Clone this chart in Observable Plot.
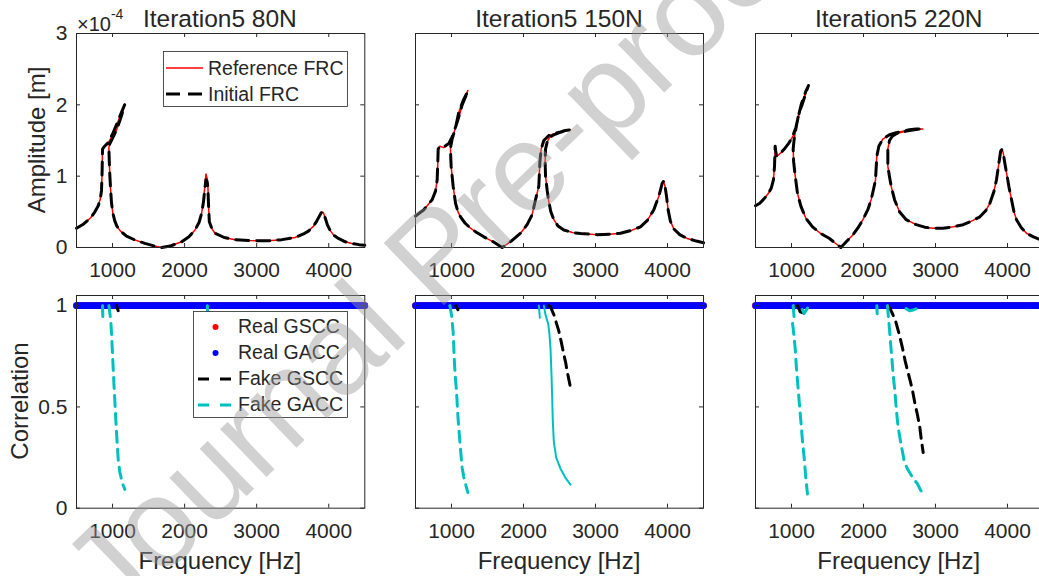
<!DOCTYPE html>
<html><head><meta charset="utf-8">
<script src="https://cdn.jsdelivr.net/npm/d3@7"></script>
<script src="https://cdn.jsdelivr.net/npm/@observablehq/plot@0.6"></script>
<style>
html,body{margin:0;padding:0;background:#fff;}
#fig{position:relative;width:1039px;height:576px;overflow:hidden;background:#fff;}
#fig > svg{position:absolute;}
</style></head><body><div id="fig"></div><script>
// ---------- DATA ----------
const titles = ["Iteration5 80N", "Iteration5 150N", "Iteration5 220N"];
const xTicks = [1000, 2000, 3000, 4000];
const ampTicks = [0, 1, 2, 3];          // ×10^-4 m
const corrTicks = [0, 0.5, 1];
const legendTop = ["Reference FRC", "Initial FRC"];
const legendBottom = ["Real GSCC", "Real GACC", "Fake GSCC", "Fake GACC"];

// FRC curves: [frequency Hz, amplitude ×10^-4 m], in path order (folds included)
const ref80 = [[500,0.27],[600,0.33],[700,0.42],[755,0.5],[800,0.58],[830,0.68],[847,0.8],[855,1.05],[861,1.38],[890,1.42],[930,1.45],[970,1.52],[1009,1.6],[1050,1.7],[1090,1.8],[1130,1.9],[1171,2.01],[1140,1.9],[1102,1.78],[1060,1.66],[1009,1.55],[960,1.45],[949,1.4],[955,1.2],[963,1.0],[975,0.78],[986,0.62],[1005,0.48],[1032,0.37],[1060,0.3],[1110,0.23],[1194,0.16],[1300,0.11],[1449,0.057],[1580,0.02],[1681,0],[1800,0.02],[1958,0.08],[2060,0.15],[2144,0.245],[2200,0.35],[2236,0.48],[2262,0.65],[2282,0.88],[2296,1.03],[2310,0.98],[2322,0.9],[2332,0.6],[2343,0.36],[2380,0.26],[2421,0.2],[2550,0.14],[2699,0.11],[2900,0.097],[3162,0.094],[3350,0.11],[3532,0.14],[3650,0.19],[3718,0.23],[3790,0.3],[3833,0.37],[3870,0.44],[3903,0.5],[3925,0.49],[3949,0.42],[3980,0.32],[4019,0.24],[4070,0.17],[4134,0.127],[4230,0.08],[4319,0.057],[4420,0.04],[4500,0.033]];
const init80 = [[500,0.27],[600,0.33],[700,0.42],[755,0.5],[800,0.58],[830,0.68],[847,0.8],[855,1.05],[861,1.38],[890,1.42],[930,1.46],[970,1.53],[1009,1.61],[1050,1.71],[1090,1.81],[1130,1.91],[1168,2.0],[1140,1.9],[1102,1.78],[1060,1.66],[1009,1.55],[960,1.45],[949,1.4],[955,1.2],[963,1.0],[975,0.78],[986,0.62],[1005,0.48],[1032,0.37],[1060,0.3],[1110,0.23],[1194,0.16],[1300,0.11],[1449,0.057],[1580,0.02],[1681,0],[1800,0.02],[1958,0.08],[2060,0.15],[2144,0.245],[2200,0.35],[2236,0.48],[2262,0.64],[2282,0.84],[2296,0.95],[2310,0.93],[2322,0.86],[2332,0.6],[2343,0.36],[2380,0.26],[2421,0.2],[2550,0.14],[2699,0.11],[2900,0.097],[3162,0.094],[3350,0.11],[3532,0.14],[3650,0.19],[3718,0.23],[3790,0.3],[3833,0.37],[3870,0.44],[3903,0.5],[3925,0.49],[3949,0.42],[3980,0.32],[4019,0.24],[4070,0.17],[4134,0.127],[4230,0.08],[4319,0.057],[4420,0.04],[4500,0.033]];
const ref150 = [[500,0.44],[616,0.53],[731,0.67],[778,0.79],[801,0.95],[810,1.2],[815,1.38],[838,1.42],[894,1.4],[963,1.45],[1009,1.54],[1040,1.63],[1079,1.75],[1115,1.87],[1148,1.99],[1190,2.1],[1227,2.2],[1171,2.08],[1102,1.9],[1056,1.68],[1009,1.52],[986,1.4],[990,1.25],[995,1.14],[1023,0.86],[1056,0.62],[1090,0.5],[1125,0.43],[1190,0.34],[1264,0.27],[1350,0.21],[1449,0.15],[1580,0.08],[1704,0],[1830,0.09],[1958,0.2],[2050,0.32],[2120,0.46],[2167,0.67],[2213,0.86],[2227,1.19],[2245,1.38],[2282,1.5],[2352,1.57],[2440,1.6],[2514,1.62],[2580,1.64],[2653,1.65],[2580,1.635],[2500,1.61],[2420,1.58],[2360,1.54],[2329,1.48],[2306,1.38],[2300,1.2],[2306,1.0],[2329,0.8],[2352,0.64],[2380,0.5],[2421,0.39],[2480,0.3],[2560,0.245],[2680,0.21],[2792,0.195],[3023,0.18],[3200,0.185],[3347,0.2],[3500,0.24],[3625,0.29],[3720,0.38],[3810,0.53],[3880,0.72],[3926,0.9],[3945,0.93],[3965,0.86],[3986,0.72],[4010,0.52],[4040,0.37],[4088,0.26],[4170,0.18],[4273,0.127],[4400,0.09],[4500,0.066]];
const init150 = [[500,0.44],[616,0.53],[731,0.67],[778,0.79],[801,0.95],[810,1.2],[815,1.38],[838,1.42],[894,1.41],[963,1.46],[1009,1.55],[1040,1.64],[1079,1.76],[1115,1.88],[1148,2.0],[1190,2.1],[1227,2.19],[1171,2.08],[1102,1.9],[1056,1.68],[1009,1.52],[986,1.4],[990,1.25],[995,1.14],[1023,0.86],[1056,0.62],[1090,0.5],[1125,0.43],[1190,0.34],[1264,0.27],[1350,0.21],[1449,0.15],[1580,0.08],[1704,0],[1830,0.09],[1958,0.2],[2050,0.32],[2120,0.46],[2167,0.67],[2213,0.86],[2227,1.19],[2245,1.38],[2282,1.5],[2352,1.57],[2440,1.6],[2514,1.62],[2580,1.64],[2650,1.65],[2580,1.635],[2500,1.61],[2420,1.58],[2360,1.54],[2329,1.48],[2306,1.38],[2300,1.2],[2306,1.0],[2329,0.8],[2352,0.64],[2380,0.5],[2421,0.39],[2480,0.3],[2560,0.245],[2680,0.21],[2792,0.195],[3023,0.18],[3200,0.185],[3347,0.2],[3500,0.24],[3625,0.29],[3720,0.38],[3810,0.53],[3880,0.72],[3926,0.9],[3945,0.93],[3965,0.86],[3986,0.72],[4010,0.52],[4040,0.37],[4088,0.26],[4170,0.18],[4273,0.127],[4400,0.09],[4500,0.066]];
const ref220 = [[500,0.585],[560,0.62],[625,0.69],[680,0.76],[718,0.83],[750,0.95],[764,1.14],[773,1.42],[780,1.36],[792,1.28],[820,1.3],[856,1.33],[900,1.38],[968,1.47],[1020,1.56],[1060,1.66],[1100,1.84],[1134,1.99],[1170,2.1],[1199,2.18],[1236,2.28],[1210,2.2],[1176,2.09],[1140,1.98],[1106,1.9],[1069,1.71],[1037,1.52],[1023,1.38],[1030,1.2],[1046,1.05],[1065,0.9],[1083,0.76],[1130,0.58],[1199,0.41],[1292,0.29],[1400,0.2],[1523,0.13],[1610,0.06],[1685,0],[1770,0.09],[1852,0.175],[1920,0.27],[1991,0.39],[2060,0.53],[2106,0.67],[2140,0.82],[2167,0.95],[2185,1.28],[2213,1.42],[2268,1.52],[2361,1.58],[2454,1.61],[2550,1.63],[2639,1.65],[2730,1.66],[2824,1.66],[2730,1.655],[2639,1.64],[2540,1.62],[2454,1.595],[2400,1.56],[2361,1.5],[2338,1.38],[2338,1.14],[2360,1.0],[2384,0.86],[2431,0.67],[2500,0.5],[2593,0.39],[2731,0.32],[2850,0.285],[2963,0.27],[3102,0.27],[3250,0.29],[3384,0.32],[3500,0.37],[3616,0.43],[3700,0.52],[3755,0.62],[3810,0.78],[3847,0.95],[3880,1.18],[3905,1.35],[3920,1.38],[3940,1.33],[3960,1.2],[3986,1.05],[4020,0.85],[4056,0.67],[4090,0.5],[4125,0.39],[4190,0.28],[4264,0.2],[4360,0.15],[4449,0.113],[4500,0.1]];
const init220 = [[500,0.585],[560,0.62],[625,0.69],[680,0.76],[718,0.83],[750,0.95],[764,1.14],[773,1.42],[780,1.36],[792,1.28],[820,1.3],[856,1.33],[900,1.38],[968,1.47],[1020,1.57],[1060,1.68],[1100,1.86],[1134,2.0],[1170,2.11],[1199,2.19],[1236,2.27],[1210,2.2],[1176,2.09],[1140,1.98],[1106,1.9],[1069,1.71],[1037,1.52],[1023,1.38],[1030,1.2],[1046,1.05],[1065,0.9],[1083,0.76],[1130,0.58],[1199,0.41],[1292,0.29],[1400,0.2],[1523,0.13],[1610,0.06],[1685,0],[1770,0.09],[1852,0.175],[1920,0.27],[1991,0.39],[2060,0.53],[2106,0.67],[2140,0.82],[2167,0.95],[2185,1.28],[2213,1.42],[2268,1.52],[2361,1.58],[2454,1.61],[2550,1.63],[2639,1.65],[2730,1.66],[2820,1.66],[2730,1.655],[2639,1.64],[2540,1.62],[2454,1.595],[2400,1.56],[2361,1.5],[2338,1.38],[2338,1.14],[2360,1.0],[2384,0.86],[2431,0.67],[2500,0.5],[2593,0.39],[2731,0.32],[2850,0.285],[2963,0.27],[3102,0.27],[3250,0.29],[3384,0.32],[3500,0.37],[3616,0.43],[3700,0.52],[3755,0.62],[3810,0.78],[3847,0.95],[3880,1.18],[3905,1.35],[3920,1.37],[3940,1.33],[3960,1.2],[3986,1.05],[4020,0.85],[4056,0.67],[4090,0.5],[4125,0.39],[4190,0.28],[4264,0.2],[4360,0.15],[4449,0.113],[4500,0.1]];

// Correlation: real GSCC / GACC stay at 1 over the whole sweep
const sweepHz = [500,525,550,575,600,625,650,675,700,725,750,775,800,825,850,875,900,925,950,975,1000,1025,1050,1075,1100,1125,1150,1175,1200,1225,1250,1275,1300,1325,1350,1375,1400,1425,1450,1475,1500,1525,1550,1575,1600,1625,1650,1675,1700,1725,1750,1775,1800,1825,1850,1875,1900,1925,1950,1975,2000,2025,2050,2075,2100,2125,2150,2175,2200,2225,2250,2275,2300,2325,2350,2375,2400,2425,2450,2475,2500,2525,2550,2575,2600,2625,2650,2675,2700,2725,2750,2775,2800,2825,2850,2875,2900,2925,2950,2975,3000,3025,3050,3075,3100,3125,3150,3175,3200,3225,3250,3275,3300,3325,3350,3375,3400,3425,3450,3475,3500,3525,3550,3575,3600,3625,3650,3675,3700,3725,3750,3775,3800,3825,3850,3875,3900,3925,3950,3975,4000,4025,4050,4075,4100,4125,4150,4175,4200,4225,4250,4275,4300,4325,4350,4375,4400,4425,4450,4475,4500];
const realGSCC = 1.0;
const realGACC = 1.0;

// Fake correlations: segments of [frequency Hz, correlation]
const fakeGSCC80 = [[[1056,1.0],[1068,0.985],[1079,0.975]]];
const fakeGACC80 = [[[861,1.0],[864,0.96],[868,0.915]],[[949,1.0],[975,0.93],[986,0.86],[1000,0.76],[1009,0.69],[1020,0.61],[1032,0.53],[1045,0.44],[1056,0.37],[1068,0.3],[1079,0.24],[1100,0.18],[1116,0.155],[1140,0.12],[1171,0.093]],[[2315,1.0],[2319,0.965]]];
const fakeGSCC150 = [[[1060,1.0],[1090,0.98]],[[2352,1.0],[2380,0.99],[2421,0.956],[2460,0.91],[2491,0.874],[2525,0.82],[2560,0.759],[2585,0.72],[2606,0.677],[2634,0.628],[2650,0.6],[2662,0.587]]];
const fakeGACC150 = [[[977,1.0],[990,0.975],[1000,0.955],[1023,0.87],[1042,0.71],[1055,0.64],[1069,0.58],[1088,0.46],[1100,0.4],[1116,0.33],[1130,0.27],[1148,0.2],[1170,0.155],[1194,0.12],[1227,0.077]]];
const fakeGACC150Dense = [[[2213,1.0],[2220,0.97],[2227,0.94]],[[2282,1.0],[2306,0.955],[2343,0.91],[2360,0.86],[2375,0.79],[2389,0.66],[2398,0.55],[2407,0.43],[2421,0.33],[2454,0.25],[2514,0.195],[2583,0.15],[2653,0.116]]];
const fakeGSCC220 = [[[1083,1.0],[1120,0.97],[1162,0.965]],[[2347,1.0],[2403,0.96],[2449,0.92],[2495,0.86],[2542,0.79],[2579,0.726],[2611,0.68],[2648,0.63],[2681,0.58],[2718,0.51],[2750,0.46],[2782,0.4],[2806,0.33],[2829,0.275]]];
const fakeGACC220 = [[[1023,1.0],[1037,0.94],[1014,0.91],[1023,0.89],[1051,0.79],[1069,0.69],[1083,0.63],[1106,0.53],[1130,0.43],[1153,0.33],[1176,0.25],[1199,0.15],[1222,0.07]],[[1150,0.98],[1175,0.96],[1200,0.975],[1245,1.0]],[[2185,1.0],[2190,0.96]],[[2333,1.0],[2347,0.94],[2366,0.86],[2389,0.76],[2412,0.66],[2435,0.58],[2458,0.48],[2481,0.4],[2519,0.32],[2565,0.234],[2611,0.193],[2681,0.152],[2750,0.12],[2796,0.087],[2829,0.067]],[[2590,0.985],[2640,0.975],[2700,0.98],[2775,0.99]]];

// ---------- STYLE / LAYOUT ----------
const FONT = '"Liberation Sans", Arial, Helvetica, sans-serif';
const INK = "#262626";
const RED = "#ff0000", BLUE = "#0000ff", CYAN = "#00bfbf", BLACK = "#000000";
const cols = [{L: 75.7, R: 364}, {L: 415, R: 703}, {L: 754.7, R: 1042.7}];
const rowsY = [{T: 33, B: 247}, {T: 295, B: 507.7}];
const M = {l: 70, r: 14, t: 14, b: 40};
const fig = document.getElementById("fig");

const toRows = (pairs) => pairs.map(([f, v]) => ({f, v}));
const segRows = (segs) => segs.flatMap((s, i) => s.map(([f, v]) => ({f, v, seg: i})));

function panel(col, row, yDomain, yTicks, showY, marks) {
  const fw = col.R - col.L, fh = row.B - row.T;
  const svg = Plot.plot({
    width: fw + M.l + M.r, height: fh + M.t + M.b,
    marginLeft: M.l, marginRight: M.r, marginTop: M.t, marginBottom: M.b,
    style: {fontFamily: FONT, fontSize: "21px", color: INK, background: "transparent", overflow: "visible"},
    x: {domain: [500, 4500], axis: null},
    y: {domain: yDomain, axis: null},
    marks: [
      ...marks,
      Plot.frame({stroke: INK, strokeWidth: 1}),
      Plot.tickX(xTicks, {x: d => d, stroke: INK, insetTop: fh - 4}),
      Plot.tickX(xTicks, {x: d => d, stroke: INK, insetBottom: fh - 4}),
      Plot.tickY(yTicks, {y: d => d, stroke: INK, insetRight: fw - 4}),
      Plot.tickY(yTicks, {y: d => d, stroke: INK, insetLeft: fw - 4}),
      Plot.axisX(xTicks, {tickSize: 0, tickPadding: 15, label: null, tickFormat: d => String(d)}),
      showY ? Plot.axisY(yTicks, {tickSize: 0, tickPadding: 9, label: null, tickFormat: d => String(d)}) : null
    ].filter(Boolean)
  });
  svg.style.left = (col.L - M.l) + "px";
  svg.style.top = (row.T - M.t) + "px";
  fig.appendChild(svg);
}

const refs = [ref80, ref150, ref220], inits = [init80, init150, init220];
const gsccs = [fakeGSCC80, fakeGSCC150, fakeGSCC220];
const gaccs = [fakeGACC80, fakeGACC150, fakeGACC220];
const dense = [[], fakeGACC150Dense, []];
const realRowsS = sweepHz.map(f => ({f, v: realGSCC}));
const realRowsA = sweepHz.map(f => ({f, v: realGACC}));

for (let i = 0; i < 3; i++) {
  panel(cols[i], rowsY[0], [0, 3], ampTicks, i === 0, [
    Plot.line(toRows(refs[i]), {x: "f", y: "v", stroke: RED, strokeWidth: 1.5}),
    Plot.line(toRows(inits[i]), {x: "f", y: "v", stroke: BLACK, strokeWidth: 3, strokeDasharray: "13,8"})
  ]);
  panel(cols[i], rowsY[1], [0, 1.05], corrTicks, i === 0, [
    Plot.dot(realRowsS, {x: "f", y: "v", r: 3.3, fill: RED, stroke: null}),
    Plot.dot(realRowsA, {x: "f", y: "v", r: 3.3, fill: BLUE, stroke: null}),
    Plot.line(segRows(gsccs[i]), {x: "f", y: "v", z: "seg", stroke: BLACK, strokeWidth: 3, strokeDasharray: "11,7"}),
    Plot.line(segRows(gaccs[i]), {x: "f", y: "v", z: "seg", stroke: CYAN, strokeWidth: 3, strokeDasharray: "11,7"}),
    Plot.line(segRows(dense[i]), {x: "f", y: "v", z: "seg", stroke: CYAN, strokeWidth: 2})
  ]);
}

// ---------- TEXT, LEGENDS, WATERMARK ----------
const ov = d3.select(fig).append("svg")
  .attr("width", 1039).attr("height", 576)
  .style("left", "0px").style("top", "0px")
  .style("font-family", FONT).attr("fill", INK);

cols.forEach((c, i) => {
  ov.append("text").attr("x", (c.L + c.R) / 2).attr("y", 27).attr("text-anchor", "middle")
    .attr("font-size", 24.5).text(titles[i]);
  ov.append("text").attr("x", (c.L + c.R) / 2).attr("y", 569).attr("text-anchor", "middle")
    .attr("font-size", 24).text("Frequency [Hz]");
});
ov.append("text").attr("transform", "translate(45,140) rotate(-90)").attr("text-anchor", "middle")
  .attr("font-size", 24).text("Amplitude [m]");
ov.append("text").attr("transform", "translate(28,401) rotate(-90)").attr("text-anchor", "middle")
  .attr("font-size", 24).text("Correlation");
const mult = ov.append("text").attr("x", 77).attr("y", 31).attr("font-size", 20);
mult.append("tspan").text("×10");
mult.append("tspan").attr("font-size", 14).attr("dy", -12).text("-4");

// top legend
const lg1 = ov.append("g");
lg1.append("rect").attr("x", 163.5).attr("y", 51.5).attr("width", 184).attr("height", 55)
  .attr("fill", "#fff").attr("stroke", INK).attr("stroke-width", 0.8);
lg1.append("line").attr("x1", 166).attr("x2", 203).attr("y1", 68).attr("y2", 68).attr("stroke", RED).attr("stroke-width", 1.5);
lg1.append("line").attr("x1", 166).attr("x2", 203).attr("y1", 94).attr("y2", 94).attr("stroke", BLACK).attr("stroke-width", 3).attr("stroke-dasharray", "14,8");
legendTop.forEach((t, k) => lg1.append("text").attr("x", 208).attr("y", 75 + 26 * k).attr("font-size", 19.5).text(t));

// bottom legend
const lg2 = ov.append("g");
lg2.append("rect").attr("x", 193.5).attr("y", 311.5).attr("width", 154).attr("height", 106)
  .attr("fill", "#fff").attr("stroke", INK).attr("stroke-width", 0.8);
lg2.append("circle").attr("cx", 215.5).attr("cy", 327).attr("r", 3).attr("fill", RED);
lg2.append("circle").attr("cx", 215.5).attr("cy", 353).attr("r", 3).attr("fill", BLUE);
lg2.append("line").attr("x1", 198).attr("x2", 232).attr("y1", 379).attr("y2", 379).attr("stroke", BLACK).attr("stroke-width", 3).attr("stroke-dasharray", "11,11");
lg2.append("line").attr("x1", 198).attr("x2", 232).attr("y1", 405).attr("y2", 405).attr("stroke", CYAN).attr("stroke-width", 3).attr("stroke-dasharray", "11,11");
legendBottom.forEach((t, k) => lg2.append("text").attr("x", 238).attr("y", 333 + 26 * k).attr("font-size", 19.5).text(t));

// watermark
ov.append("text").attr("transform", "translate(114,624) rotate(-44)")
  .attr("font-size", 126).attr("fill", "#999999").attr("fill-opacity", 0.45)
  .text("Journal Pre-proof");
</script></body></html>
